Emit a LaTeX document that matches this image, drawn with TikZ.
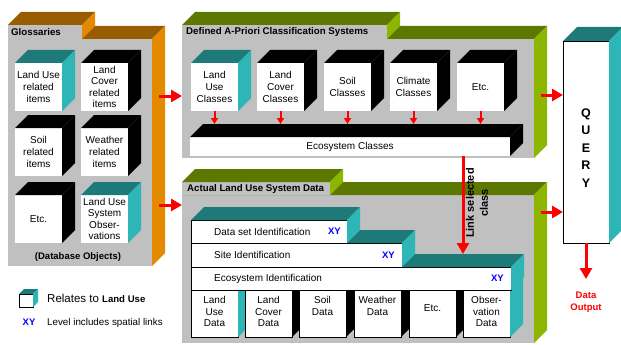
\documentclass[tikz,border=0pt]{standalone}
\usepackage{fontspec}
\setmainfont{Liberation Sans}
\usetikzlibrary{arrows.meta,calc}

\definecolor{panelgray}{RGB}{192,192,192}
\definecolor{orangetop}{RGB}{153,92,0}
\definecolor{orangeside}{RGB}{227,138,0}
\definecolor{olivetop}{RGB}{92,120,0}
\definecolor{greenside}{RGB}{140,182,0}
\definecolor{tealtop}{RGB}{30,122,120}
\definecolor{tealside}{RGB}{46,181,181}
\definecolor{arrowred}{RGB}{255,0,0}
\definecolor{xyblue}{RGB}{0,0,255}

\newcommand{\boxfont}{\fontsize{10}{11.6}\selectfont}
% top and right faces of a box drawn behind its front node
\newcommand{\boxsides}[4]{%
  \fill[#3] (#1.north west) -- ++(#2,-#2) -- ([shift={(#2,-#2)}]#1.north east) -- (#1.north east) -- cycle;
  \fill[#4] (#1.north east) -- ++(#2,-#2) -- ([shift={(#2,-#2)}]#1.south east) -- (#1.south east) -- cycle;
}

\tikzset{
  face/.style={fill=white, inner sep=0pt, outer sep=0pt, align=center, font=\boxfont},
  cube/.style={face, minimum width=47pt, minimum height=48pt, anchor=north west},
  databox/.style={face, draw=black, line width=0.7pt, anchor=north west},
  column/.style={databox, minimum width=47pt, minimum height=47pt},
  panel/.style={fill=panelgray, inner sep=0pt, outer sep=0pt, anchor=north west},
  paneltitle/.style={font=\bfseries\fontsize{9.7}{11}\selectfont, anchor=west, inner sep=0pt},
  xy/.style={font=\bfseries\fontsize{9.5}{11}\selectfont, text=xyblue, inner sep=0pt, anchor=east},
  boxtext/.style={font=\boxfont, inner sep=0pt, align=center},
  bigarrow/.style={draw=arrowred, line width=3pt, -{Triangle[length=11pt,width=12pt]}},
  smallarrow/.style={draw=arrowred, line width=2pt, -{Triangle[length=6pt,width=7pt]}},
}

\begin{document}
\begin{tikzpicture}[x=1pt, y=-1pt]
\useasboundingbox (0,0) rectangle (621,345);

% Glossaries
\node[panel, minimum width=144pt, minimum height=227pt] (gloss) at (8,39) {};
\boxsides{gloss}{13}{orangetop}{orangeside}
\node[panel, minimum width=74pt, minimum height=14pt] (glosstab) at (8,25) {};
\boxsides{glosstab}{13}{orangetop}{orangeside}
\node[paneltitle] (glosstitle) at ([xshift=3pt]glosstab.west) {Glossaries};

\node[cube] (gluse) at (15,63) {Land Use\\related\\items};
\boxsides{gluse}{13}{tealtop}{tealside}
\node[cube] (glcover) at (81,63) {Land\\Cover\\related\\items};
\boxsides{glcover}{13}{black}{black}
\node[cube] (glsoil) at (15,128) {Soil\\related\\items};
\boxsides{glsoil}{13}{black}{black}
\node[cube] (glweather) at (81,128) {Weather\\related\\items};
\boxsides{glweather}{13}{black}{black}
\node[cube] (gletc) at (15,195) {Etc.};
\boxsides{gletc}{13}{black}{black}
\node[cube] (globs) at (81,195) {Land Use\\System\\Obser-\\vations};
\boxsides{globs}{13}{tealtop}{tealside}
\node[font=\bfseries\fontsize{9.5}{11}\selectfont, inner sep=0pt] (dbobjects) at (78,257) {(Database Objects)};

% Defined A-Priori Classification Systems
\node[panel, minimum width=352pt, minimum height=119pt] (def) at (182,39) {};
\boxsides{def}{13}{olivetop}{greenside}
\node[panel, minimum width=205pt, minimum height=14pt] (deftab) at (182,25) {};
\boxsides{deftab}{13}{olivetop}{greenside}
\node[paneltitle] (deftitle) at ([xshift=4pt]deftab.west) {Defined A-Priori Classification Systems};

\node[cube] (cluse) at (191,63) {Land\\Use\\Classes};
\boxsides{cluse}{13}{tealtop}{tealside}
\node[cube] (clcover) at (257,63) {Land\\Cover\\Classes};
\boxsides{clcover}{13}{black}{black}
\node[cube] (clsoil) at (324,63) {Soil\\Classes};
\boxsides{clsoil}{13}{black}{black}
\node[cube] (clclimate) at (390,63) {Climate\\Classes};
\boxsides{clclimate}{13}{black}{black}
\node[cube] (cletc) at (457,63) {Etc.};
\boxsides{cletc}{13}{black}{black}

\node[face, minimum width=320pt, minimum height=19pt, anchor=north west] (ecoclasses) at (190,137) {Ecosystem Classes};
\boxsides{ecoclasses}{13}{black}{black}
\coordinate (ecoback) at ([yshift=13pt]ecoclasses.north);

\draw[smallarrow] (cluse.south) -- (cluse.south |- ecoback);
\draw[smallarrow] (clcover.south) -- (clcover.south |- ecoback);
\draw[smallarrow] (clsoil.south) -- (clsoil.south |- ecoback);
\draw[smallarrow] (clclimate.south) -- (clclimate.south |- ecoback);
\draw[smallarrow] (cletc.south) -- (cletc.south |- ecoback);

% Actual Land Use System Data
\node[panel, minimum width=352pt, minimum height=148pt] (act) at (182,195) {};
\boxsides{act}{13}{olivetop}{greenside}
\node[panel, minimum width=148pt, minimum height=13pt] (acttab) at (182,182) {};
\boxsides{acttab}{13}{olivetop}{greenside}
\node[paneltitle] (acttitle) at ([xshift=5pt]acttab.west) {Actual Land Use System Data};

\node[column] (dluse) at (191,290) {};
\boxsides{dluse}{13}{tealtop}{tealside}
\node[column] (dlcover) at (245,290) {};
\boxsides{dlcover}{13}{black}{black}
\node[column] (dsoil) at (299,290) {};
\boxsides{dsoil}{13}{black}{black}
\node[column] (dweather) at (354,290) {};
\boxsides{dweather}{13}{black}{black}
\node[column] (detc) at (409,290) {};
\boxsides{detc}{13}{black}{black}
\node[column] (dobs) at (463,290) {};
\boxsides{dobs}{13}{tealtop}{tealside}

\node[boxtext, anchor=north] (tluse) at ([yshift=-6pt]dluse.north) {Land\\Use\\Data};
\node[boxtext, anchor=north] (tlcover) at ([yshift=-6pt]dlcover.north) {Land\\Cover\\Data};
\node[boxtext, anchor=north] (tsoil) at ([yshift=-6pt]dsoil.north) {Soil\\Data};
\node[boxtext, anchor=north] (tweather) at ([yshift=-6pt]dweather.north) {Weather\\Data};
\node[boxtext] (tetc) at ([yshift=5pt]detc.center) {Etc.};
\node[boxtext, anchor=north] (tobs) at ([yshift=-6pt]dobs.north) {Obser-\\vation\\Data};

\node[databox, minimum width=320pt, minimum height=23pt] (ecoid) at (191,267) {};
\boxsides{ecoid}{13}{tealtop}{tealside}
\node[boxtext, anchor=west] (tecoid) at ([xshift=23pt]ecoid.west) {Ecosystem Identification};
\node[xy] (xyecoid) at ([xshift=-7pt]ecoid.east) {XY};
\coordinate (ecoidback) at ([yshift=13pt]ecoid.north);

\node[databox, minimum width=211pt, minimum height=24pt] (site) at (191,243) {};
\boxsides{site}{13}{tealtop}{tealside}
\node[boxtext, anchor=west] (tsite) at ([xshift=23pt]site.west) {Site Identification};
\node[xy] (xysite) at ([xshift=-7pt]site.east) {XY};

\node[databox, minimum width=156pt, minimum height=23pt] (dataset) at (191,220) {};
\boxsides{dataset}{13}{tealtop}{tealside}
\node[boxtext, anchor=west] (tdataset) at ([xshift=23pt]dataset.west) {Data set Identification};
\node[xy] (xydataset) at ([xshift=-6pt]dataset.east) {XY};

% QUERY
\node[face, draw=black, line width=0.5pt, minimum width=46pt, minimum height=202pt, anchor=north west] (query) at (563,41) {};
\boxsides{query}{14}{tealtop}{tealside}
\node[font=\bfseries\fontsize{12.5}{17.5}\selectfont, align=center, inner sep=0pt] (querytext) at ([yshift=-6pt]query.center) {Q\\U\\E\\R\\Y};

% arrows between the parts
\coordinate (glossout1) at (159,96);
\coordinate (glossout2) at (159,205);
\coordinate (defout) at (541,95);
\coordinate (actout) at (541,212);
\coordinate (linkx) at (463,0);
\coordinate (dataout) at (586,279);

\draw[bigarrow] (glossout1) -- (def.west |- glossout1);
\draw[bigarrow] (glossout2) -- (act.west |- glossout2);
\draw[bigarrow] (defout) -- (query.west |- defout);
\draw[bigarrow] (actout) -- (query.west |- actout);
\draw[bigarrow] (ecoclasses.south -| linkx) -- (linkx |- ecoidback);
\node[font=\bfseries\fontsize{11}{14}\selectfont, align=center, rotate=90, inner sep=0pt] (linklabel) at (477,203) {Link selected\\class};
\draw[bigarrow] (query.south) -- (dataout);
\node[font=\bfseries\fontsize{9.5}{11.5}\selectfont, text=arrowred, align=center, inner sep=0pt] (dataoutput) at (586,302) {Data\\Output};

% legend
\node[face, draw=black, line width=0.6pt, minimum width=14pt, minimum height=13pt, anchor=north west] (legcube) at (19,294) {};
\boxsides{legcube}{5}{tealtop}{tealside}
\node[anchor=west, inner sep=0pt, font=\fontsize{11.5}{13}\selectfont] (legland) at (47,298) {Relates to \textbf{\fontsize{9.6}{11}\selectfont Land Use}};
\node[xy, anchor=center] (legxy) at (29,322) {XY};
\node[anchor=west, inner sep=0pt, font=\fontsize{9.8}{11}\selectfont] (legxytext) at (47,323) {Level includes spatial links};
\end{tikzpicture}
\end{document}
